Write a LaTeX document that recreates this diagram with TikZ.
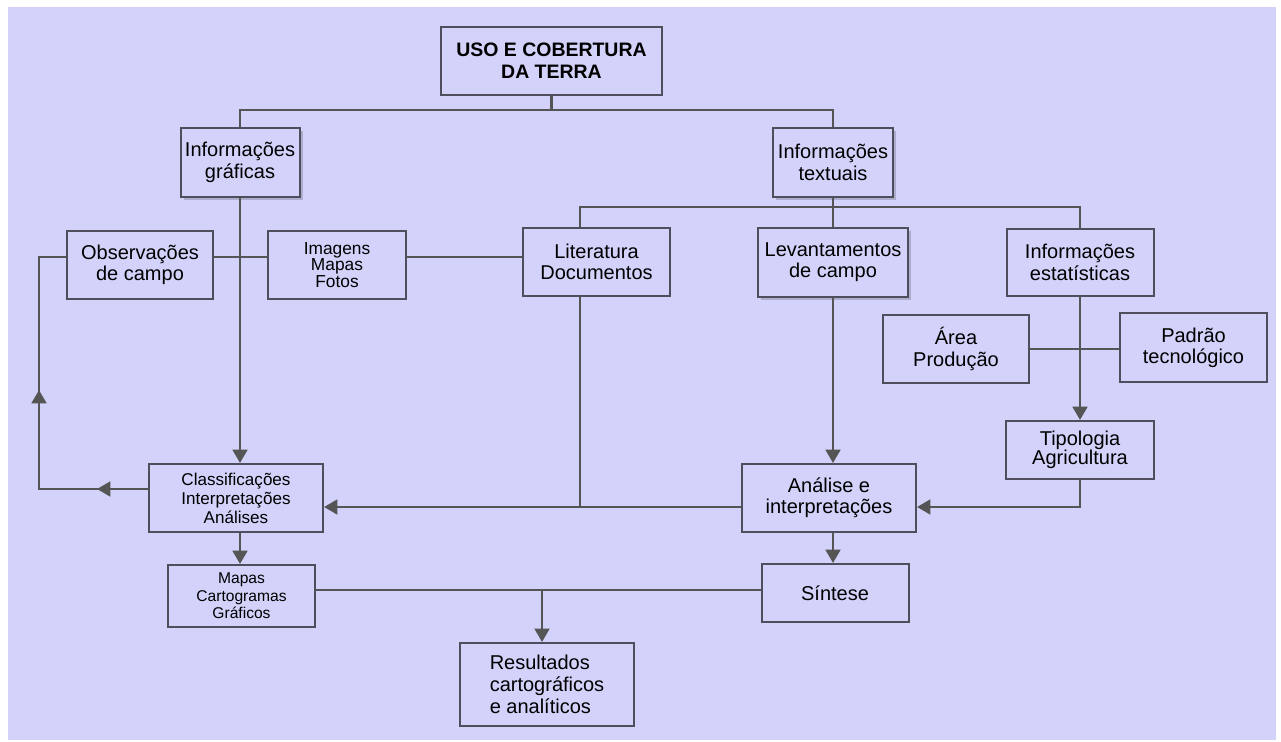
\documentclass[tikz,border=0pt]{standalone}
\usepackage{fontspec}
\setmainfont{Liberation Sans}
\usetikzlibrary{arrows.meta,shadows}
\newlength{\unid}
\setlength{\unid}{0.75pt}
\definecolor{lilas}{RGB}{210,210,250}
\definecolor{linha}{RGB}{85,85,85}
\definecolor{borda}{RGB}{78,78,92}
\tikzset{
  caixa/.style={draw=borda, line width=1.5pt, fill=lilas, align=center, inner sep=0pt, font=\fontsize{15}{16}\selectfont},
  tam/.style 2 args={minimum width=#1\unid, minimum height=#2\unid},
  sombra/.style={drop shadow={shadow xshift=2.5pt, shadow yshift=-2.5pt, fill=black, opacity=0.18}},
  conn/.style={draw=linha, line width=2pt},
  seta/.style={conn, -{Triangle[length=10pt, width=11pt]}},
  menor/.style={font=\fontsize{13}{12.5}\selectfont},
}
\begin{document}
\begin{tikzpicture}[x=0.75pt, y=-0.75pt]
        % Fundo
        \useasboundingbox (0,0) rectangle (1281,742);
        \fill[lilas] (8,7) rectangle (1276,740);

        % Caixas
        \node[caixa, tam={221}{68}, font=\bfseries\fontsize{14.6}{16.3}\selectfont] (uso) at (551.5,61) {USO E COBERTURA\\DA TERRA};
        \node[caixa, sombra, tam={119}{69}] (graf) at (240,162.5) {Informações\\gráficas};
        \node[caixa, sombra, tam={120}{69}] (text) at (833,162.5) {Informações\\textuais};
        \node[caixa, tam={146}{68}] (obs) at (140,265) {Observações\\de campo};
        \node[caixa, menor, tam={138}{68}] (img) at (337,265) {Imagens\\Mapas\\Fotos};
        \node[caixa, tam={147}{68}] (lit) at (596.5,262) {Literatura\\Documentos};
        \node[caixa, sombra, tam={150}{69}] (lev) at (833,262.5) {Levantamentos\\de campo};
        \node[caixa, tam={147}{67}] (est) at (1080,262.5) {Informações\\estatísticas};
        \node[caixa, tam={146}{68}] (area) at (956,349) {Área\\Produção};
        \node[caixa, tam={147}{69}] (pad) at (1193.5,347.5) {Padrão\\tecnológico};
        \node[caixa, font=\fontsize{15}{14}\selectfont, tam={148}{58}] (tip) at (1080,450) {Tipologia\\Agricultura};
        \node[caixa, tam={174}{68}] (ana) at (829,498) {Análise e\\interpretações};
        \node[caixa, font=\fontsize{12.8}{14.3}\selectfont, tam={174}{68}] (cla) at (236,498) {Classificações\\Interpretações\\Análises};
        \node[caixa, font=\fontsize{11.7}{13}\selectfont, tam={147}{62}] (map) at (241.5,596) {Mapas\\Cartogramas\\Gráficos};
        \node[caixa, tam={147}{58}] (sin) at (835,593) {Síntese};
        \node[caixa, align=left, font=\fontsize{15}{16.3}\selectfont, tam={174}{83}] (res) at (547,684.5) {Resultados\\cartográficos\\e analíticos};

        % Ligações do topo
        \coordinate (t1) at (240,110);
        \draw[conn] (uso.south) -- (uso.south |- t1);
        \draw[conn] (graf.north) -- (graf.north |- t1) -| (text.north);
        \coordinate (t2) at (580,207);
        \draw[conn] (text.south) -- (text.south |- t2);
        \draw[conn] (lit.north -| t2) |- (est.north |- t2) -- (est.north);
        \draw[conn] (lev.north) -- (lev.north |- t2);

        % Linha das imagens
        \coordinate (t3) at (39,257);
        \draw[conn] (obs.east |- t3) -- (img.west |- t3);
        \draw[conn] (img.east |- t3) -- (lit.west |- t3);
        \draw[seta] (graf.south) -- (graf.south |- cla.north);

        % Retorno para observações
        \coordinate (t4) at (39,489);
        \coordinate (m1) at (97,489);
        \coordinate (m2) at (39,390);
        \draw[conn] (cla.west |- t4) -- (t4) -- (t3) -- (obs.west |- t3);
        \draw[seta] (cla.west |- t4) -- (m1);
        \draw[seta] (t4) -- (m2);

        % Estatísticas
        \draw[conn] (area.east) -- (area.east -| pad.west);
        \draw[seta] (est.south) -- (tip.north);

        % Para análise
        \coordinate (t5) at (580,507);
        \draw[seta] (lev.south) -- (lev.south |- ana.north);
        \draw[seta] (tip.south) |- (ana.east |- t5);
        \draw[conn] (lit.south -| t5) -- (t5);
        \draw[seta] (ana.west |- t5) -- (cla.east |- t5);

        % Saídas
        \draw[seta] (graf.south |- cla.south) -- (graf.south |- map.north);
        \draw[seta] (lev.south |- ana.south) -- (lev.south |- sin.north);
        \coordinate (t6) at (542,590);
        \draw[conn] (map.east |- t6) -- (sin.west |- t6);
        \draw[seta] (t6) -- (t6 |- res.north);
\end{tikzpicture}
\end{document}
